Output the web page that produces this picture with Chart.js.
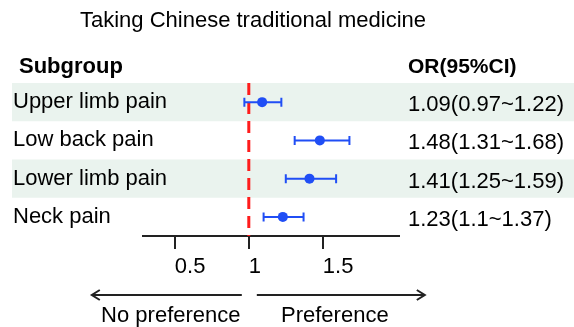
<!DOCTYPE html>
<html>
<head>
<meta charset="utf-8">
<script src="https://cdn.jsdelivr.net/npm/chart.js@4/dist/chart.umd.min.js"></script>
<style>
  html, body { margin: 0; padding: 0; background: #ffffff; }
  #wrap { width: 574px; height: 327px; }
</style>
</head>
<body>
<div id="wrap"><canvas id="forest" width="574" height="327"></canvas></div>
<script>
// Forest plot data
const chartTitle = 'Taking Chinese traditional medicine';
const subgroups = ['Upper limb pain', 'Low back pain', 'Lower limb pain', 'Neck pain'];
const oddsRatios = [1.09, 1.48, 1.41, 1.23];
const ciLower = [0.97, 1.31, 1.25, 1.1];
const ciUpper = [1.22, 1.68, 1.59, 1.37];
const xTicks = [0.5, 1, 1.5];
const refValue = 1;
const headers = ['Subgroup', 'OR(95%CI)'];
const directionLabels = ['No preference', 'Preference'];

const FONT = '"Liberation Sans", Arial, Helvetica, sans-serif';
const BLUE = 'rgb(32, 78, 245)';
const RED = 'rgb(255, 28, 28)';
const INK = '#222222';
const BAND = '#eaf3ee';

const orText = oddsRatios.map((v, i) => `${v}(${ciLower[i]}~${ciUpper[i]})`);

// Shaded bands behind alternate rows
const bandPlugin = {
  id: 'bands',
  beforeDatasetsDraw(chart) {
    const { ctx } = chart;
    const y = chart.scales.y;
    const half = Math.abs(y.getPixelForValue(1.5) - y.getPixelForValue(1));
    ctx.save();
    ctx.fillStyle = BAND;
    subgroups.forEach((_, i) => {
      if (i % 2 === 0) {
        const cy = y.getPixelForValue(i + 1);
        ctx.fillRect(12, cy - half, chart.width - 12, half * 2);
      }
    });
    ctx.restore();
  }
};

// Confidence-interval whiskers, drawn after the reference line
const whiskerPlugin = {
  id: 'whiskers',
  afterDatasetDraw(chart, args) {
    if (args.index !== 0) return;
    const { ctx } = chart;
    const xs = chart.scales.x, ys = chart.scales.y;
    ctx.save();
    ctx.strokeStyle = BLUE;
    ctx.lineWidth = 2;
    subgroups.forEach((_, i) => {
      const y = ys.getPixelForValue(i + 1);
      const x0 = xs.getPixelForValue(ciLower[i]);
      const x1 = xs.getPixelForValue(ciUpper[i]);
      ctx.beginPath();
      ctx.moveTo(x0, y); ctx.lineTo(x1, y);
      ctx.moveTo(x0, y - 4.5); ctx.lineTo(x0, y + 4.5);
      ctx.moveTo(x1, y - 4.5); ctx.lineTo(x1, y + 4.5);
      ctx.stroke();
    });
    ctx.restore();
  }
};

// Title, table columns and direction arrows
const textPlugin = {
  id: 'tableText',
  afterDraw(chart) {
    const { ctx } = chart;
    const xs = chart.scales.x, ys = chart.scales.y;
    ctx.save();
    ctx.fillStyle = '#000';
    ctx.textBaseline = 'alphabetic';

    ctx.font = `22px ${FONT}`;
    ctx.textAlign = 'center';
    ctx.fillText(chartTitle, 253, 27);

    ctx.font = `bold 22px ${FONT}`;
    ctx.textAlign = 'left';
    ctx.fillText(headers[0], 19, 73);
    ctx.font = `bold 21px ${FONT}`;
    ctx.fillText(headers[1], 408, 73);

    ctx.font = `22px ${FONT}`;
    ctx.textBaseline = 'middle';
    subgroups.forEach((s, i) => {
      const y = ys.getPixelForValue(i + 1);
      ctx.fillText(s, 13, y);
      ctx.fillText(orText[i], 408, y + 3);
    });

    // direction arrows
    const xr = xs.getPixelForValue(refValue);
    const ay = 295;
    ctx.strokeStyle = INK;
    ctx.lineWidth = 2;
    ctx.beginPath();
    ctx.moveTo(xr - 7, ay); ctx.lineTo(xr - 157, ay);
    ctx.moveTo(xr - 149, ay - 5); ctx.lineTo(xr - 157, ay); ctx.lineTo(xr - 149, ay + 5);
    ctx.moveTo(xr + 8, ay); ctx.lineTo(xr + 176, ay);
    ctx.moveTo(xr + 168, ay - 5); ctx.lineTo(xr + 176, ay); ctx.lineTo(xr + 168, ay + 5);
    ctx.stroke();

    ctx.textBaseline = 'alphabetic';
    ctx.textAlign = 'center';
    ctx.fillText(directionLabels[0], xr - 78, 322);
    ctx.fillText(directionLabels[1], xr + 86, 322);
    ctx.restore();
  }
};

new Chart(document.getElementById('forest'), {
  type: 'scatter',
  data: {
    datasets: [
      {
        type: 'line',
        data: [{ x: refValue, y: 0.5 }, { x: refValue, y: subgroups.length + 0.5 }],
        borderColor: RED,
        borderWidth: 3,
        borderDash: [12, 7],
        pointRadius: 0,
        fill: false,
        order: 2
      },
      {
        data: subgroups.map((_, i) => ({ x: oddsRatios[i], y: i + 1 })),
        backgroundColor: BLUE,
        borderColor: BLUE,
        borderWidth: 0,
        pointRadius: 5,
        order: 1
      }
    ]
  },
  options: {
    responsive: false,
    animation: false,
    devicePixelRatio: 1,
    layout: { padding: { left: 143, right: 175, top: 83, bottom: 0 } },
    plugins: { legend: { display: false }, tooltip: { enabled: false } },
    scales: {
      x: {
        type: 'linear',
        position: 'bottom',
        min: 0.285,
        max: 2.015,
        afterBuildTicks: s => { s.ticks = xTicks.map(v => ({ value: v })); },
        afterFit: s => { s.height = 327 - 236; },
        grid: { drawOnChartArea: false, drawTicks: true, tickLength: 13, color: INK, lineWidth: 2 },
        border: { display: true, color: INK, width: 2 },
        ticks: {
          align: 'start',
          padding: 5,
          color: '#000',
          autoSkip: false,
          maxRotation: 0,
          font: { family: FONT, size: 22 },
          callback: v => String(v)
        }
      },
      y: {
        type: 'linear',
        display: false,
        reverse: true,
        min: 0.5,
        max: subgroups.length + 0.5
      }
    }
  },
  plugins: [bandPlugin, whiskerPlugin, textPlugin]
});
</script>
</body>
</html>
